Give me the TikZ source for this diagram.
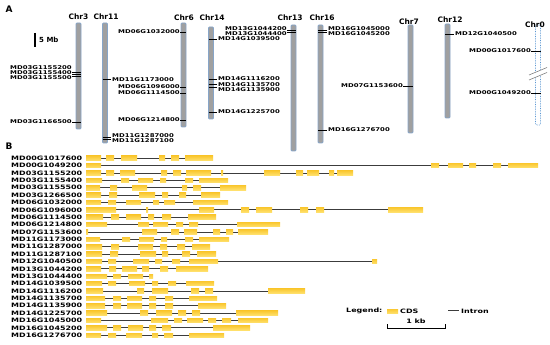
\documentclass[tikz,border=0pt]{standalone}
\usepackage{fontspec}
\setmainfont{DejaVu Sans}
\newfontfamily\labfont[FakeStretch=1.33]{DejaVu Sans}
\definecolor{chrfill}{RGB}{160,160,160}
\definecolor{chredge}{RGB}{135,165,200}
\definecolor{cdstop}{RGB}{250,200,50}
\definecolor{cdsbot}{RGB}{255,225,110}
\definecolor{introncol}{RGB}{60,60,60}
\definecolor{chrzero}{RGB}{90,150,210}
\tikzset{
  chrom/.style={draw=chredge,fill=chrfill,line width=0.8pt,rounded corners=1pt},
  chromzero/.style={draw=chrzero,fill=white,line width=0.7pt,densely dotted,rounded corners=1pt},
  chrlab/.style={font=\bfseries\fontsize{7.5}{8}\selectfont,inner sep=0pt},
  alab/.style={font=\labfont\bfseries\fontsize{5.2}{5.5}\selectfont,inner sep=0pt},
  glab/.style={font=\labfont\bfseries\fontsize{6}{6.5}\selectfont,inner sep=0pt,anchor=west},
  tick/.style={draw=black,line width=0.7pt},
  intron/.style={draw=introncol,line width=0.9pt},
  cds/.style={top color=cdstop,bottom color=cdsbot,draw=none},
  panel/.style={font=\bfseries\fontsize{9}{10}\selectfont,inner sep=0pt}
}
\newcommand{\generow}[4]{%
  \pgfmathsetmacro\gy{158.3+7.375*#1}%
  \node[glab] (g#1) at (11,\gy) {#2};%
  \draw[intron] (86,\gy) -- (#3,\gy);%
  \foreach \a/\b in {#4} {\shade[cds] (\a,\gy-2.3) rectangle (\b,\gy+2.3);}%
}
\begin{document}
\begin{tikzpicture}[x=1pt,y=-1pt]
\useasboundingbox (0,0) rectangle (550,345);
% panel labels
\node[panel] (pA) at (9,9) {A};
\node[panel] (pB) at (9,146) {B};
% scale bar
\draw[line width=1.6pt] (35,33) -- (35,47);
\node[font=\bfseries\fontsize{7}{8}\selectfont,anchor=west,inner sep=0pt] (mb) at (39,40) {5 Mb};
% chromosomes
\draw[chrom] (76,23) rectangle (81,129);
\node[chrlab] (c3) at (78.5,17) {Chr3};
\draw[chrom] (102.5,23) rectangle (107.5,143);
\node[chrlab] (c11) at (106,17) {Chr11};
\draw[chrom] (181,23) rectangle (186,127);
\node[chrlab] (c6) at (184,18) {Chr6};
\draw[chrom] (208.5,27) rectangle (213.5,119);
\node[chrlab] (c14) at (212,18) {Chr14};
\draw[chrom] (291,25) rectangle (296,151);
\node[chrlab] (c13) at (290,18) {Chr13};
\draw[chrom] (318,25) rectangle (323,143);
\node[chrlab] (c16) at (322,18) {Chr16};
\draw[chrom] (408,25) rectangle (413,133);
\node[chrlab] (c7) at (409,22) {Chr7};
\draw[chrom] (445,24) rectangle (450,118);
\node[chrlab] (c12) at (450,20) {Chr12};
\draw[chromzero] (535.5,25) rectangle (540.5,125);
\node[chrlab] (c0) at (535,24.5) {Chr0};
% break mark on Chr0
\fill[white] (529,75) -- (547,67.5) -- (547,72.5) -- (529,80) -- cycle;
\draw[line width=0.6pt,gray] (529,75) -- (547,67.5);
\draw[line width=0.6pt,gray] (529,80) -- (547,72.5);
% Chr3 genes
\draw[tick] (72,72) -- (81,72); \node[alab,anchor=east] (a1) at (72,68) {MD03G1155200};
\draw[tick] (72,74) -- (81,74); \node[alab,anchor=east] (a2) at (72,73) {MD03G1155400};
\draw[tick] (72,76) -- (81,76); \node[alab,anchor=east] (a3) at (72,78) {MD03G1155500};
\draw[tick] (72,122) -- (81,122); \node[alab,anchor=east] (a4) at (72,122) {MD03G1166500};
% Chr11
\draw[tick] (102.5,79) -- (111,79); \node[alab,anchor=west] (a5) at (112,79.5) {MD11G1173000};
\draw[tick] (102.5,137) -- (111,137); \node[alab,anchor=west] (a6) at (112,136) {MD11G1287000};
\draw[tick] (102.5,139) -- (111,139); \node[alab,anchor=west] (a7) at (112,141) {MD11G1287100};
% Chr6
\draw[tick] (180,32) -- (186,32); \node[alab,anchor=east] (a8) at (180,32) {MD06G1032000};
\draw[tick] (180,87) -- (186,87); \node[alab,anchor=east] (a9) at (180,87) {MD06G1096000};
\draw[tick] (180,93) -- (186,93); \node[alab,anchor=east] (a10) at (180,93) {MD06G1114500};
\draw[tick] (180,120) -- (186,120); \node[alab,anchor=east] (a11) at (180,120) {MD06G1214800};
% Chr14
\draw[tick] (208.5,39) -- (217,39); \node[alab,anchor=west] (a12) at (218,39) {MD14G1039500};
\draw[tick] (208.5,79) -- (217,79); \node[alab,anchor=west] (a13) at (218,79) {MD14G1116200};
\draw[tick] (208.5,84) -- (217,84); \node[alab,anchor=west] (a14) at (218,84.5) {MD14G1135700};
\draw[tick] (208.5,87) -- (217,87); \node[alab,anchor=west] (a15) at (218,90) {MD14G1135900};
\draw[tick] (208.5,112) -- (217,112); \node[alab,anchor=west] (a16) at (218,112) {MD14G1225700};
% Chr13
\draw[tick] (287,30) -- (296,30); \node[alab,anchor=east] (a17) at (287,28.5) {MD13G1044200};
\draw[tick] (287,32) -- (296,32); \node[alab,anchor=east] (a18) at (287,33.5) {MD13G1044400};
% Chr16
\draw[tick] (318,30) -- (327,30); \node[alab,anchor=west] (a19) at (328,28.5) {MD16G1045000};
\draw[tick] (318,32) -- (327,32); \node[alab,anchor=west] (a20) at (328,33.5) {MD16G1045200};
\draw[tick] (318,130) -- (327,130); \node[alab,anchor=west] (a21) at (328,130) {MD16G1276700};
% Chr7
\draw[tick] (403,86) -- (413,86); \node[alab,anchor=east] (a22) at (403,86) {MD07G1153600};
% Chr12
\draw[tick] (445,34) -- (454,34); \node[alab,anchor=west] (a23) at (455,34) {MD12G1040500};
% Chr0
\draw[tick] (531,51) -- (540.5,51); \node[alab,anchor=east] (a24) at (531,51) {MD00G1017600};
\draw[tick] (531,93) -- (540.5,93); \node[alab,anchor=east] (a25) at (531,93) {MD00G1049200};
% Panel B gene structures
\generow{0}{MD00G1017600}{213}{86/101,106/114,121/137,159/165,171/179,185/213}
\generow{1}{MD00G1049200}{538}{86/101,431/439,448/463,469/476,493/501,508/538}
\generow{2}{MD03G1155200}{353}{86/101,106/114,120/135,161/167,173/181,186/211,221/223,264/280,296/303,307/319,329/334,337/353}
\generow{3}{MD03G1155400}{228}{86/102,121/129,138/153,160/166,185/193,199/228}
\generow{4}{MD03G1155500}{246}{86/100,110/117,132/147,182/187,193/201,220/246}
\generow{5}{MD03G1266500}{220}{86/101,109/117,139/155,162/168,179/186,201/220}
\generow{6}{MD06G1032000}{228}{86/101,108/116,126/141,153/159,164/175,193/228}
\generow{7}{MD06G1096000}{423}{86/116,146/148,199/214,241/249,256/272,300/308,316/324,388/423}
\generow{8}{MD06G1114500}{216}{86/103,111/119,126/141,148/154,162/171,188/216}
\generow{9}{MD06G1214800}{280}{86/107,138/149,153/168,176/183,189/198,237/280}
\generow{10}{MD07G1153600}{268}{86/88,142/157,171/179,184/197,213/220,226/233,238/268}
\generow{11}{MD11G1173000}{229}{86/100,122/130,139/154,161/167,185/193,199/229}
\generow{12}{MD11G1287000}{210}{86/102,111/119,138/153,160/167,177/185,192/210}
\generow{13}{MD11G1287100}{216}{86/102,110/118,140/156,162/168,182/190,197/216}
\generow{14}{MD12G1040500}{377}{86/102,108/116,133/149,155/162,172/180,189/218,372/377}
\generow{15}{MD13G1044200}{208}{86/101,109/116,122/137,142/149,160/168,176/208}
\generow{16}{MD13G1044400}{153}{86/107,113/121,128/143,149/153}
\generow{17}{MD14G1039500}{214}{86/102,108/116,129/145,152/158,168/176,186/214}
\generow{18}{MD14G1116200}{305}{86/103,137/144,152/168,191/199,205/213,268/305}
\generow{19}{MD14G1135700}{217}{86/105,113/121,127/142,149/156,165/173,189/217}
\generow{20}{MD14G1135900}{226}{86/105,113/121,127/142,149/156,165/173,198/226}
\generow{21}{MD14G1225700}{278}{86/107,140/148,156/172,178/186,192/200,236/278}
\generow{22}{MD16G1045000}{268}{86/101,151/168,174/182,187/203,208/216,222/231,238/268}
\generow{23}{MD16G1045200}{250}{86/107,113/121,128/143,149/156,162/171,213/250}
\generow{24}{MD16G1276700}{224}{86/101,108/116,126/142,152/158,164/173,189/224}
% Legend
\node[glab] (leg) at (346,311) {Legend:};
\shade[cds] (387,309) rectangle (398,313.5);
\node[glab] (cdsl) at (400,311) {CDS};
\draw[intron] (448,310.5) -- (459,310.5);
\node[glab] (intl) at (461,311) {Intron};
\draw[line width=0.9pt] (387,324) -- (387,328) -- (445,328) -- (445,324);
\node[glab,anchor=center] (kb) at (416,321.5) {1 kb};
\end{tikzpicture}
\end{document}
